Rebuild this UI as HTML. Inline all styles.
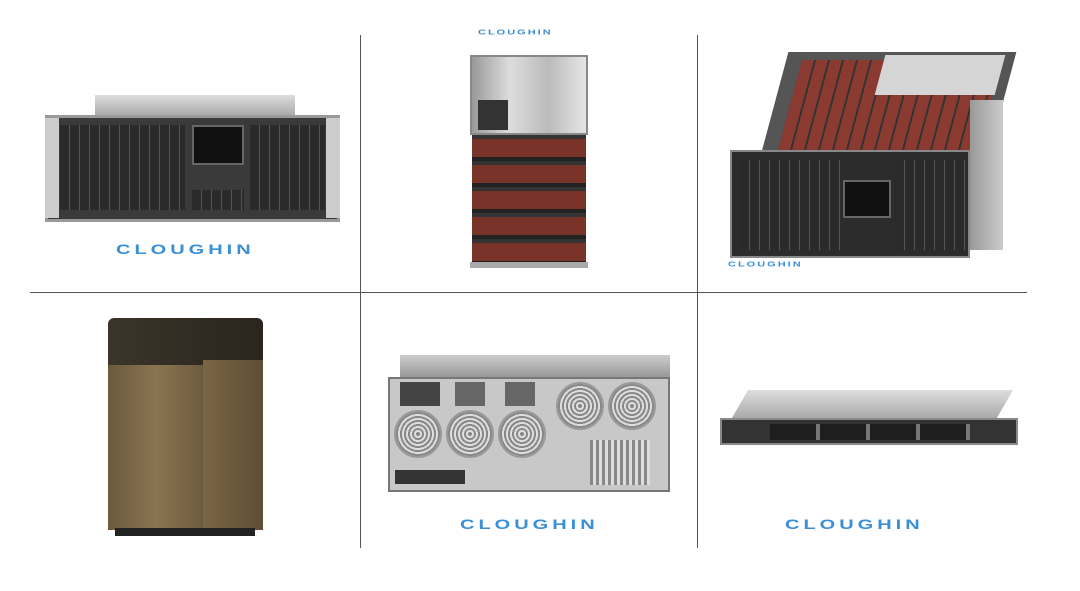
<!DOCTYPE html>
<html><head><style>
body{margin:0;width:1080px;height:591px;background:#fff;position:relative;overflow:hidden;font-family:"Liberation Sans",sans-serif}
div{position:absolute;box-sizing:border-box}
.logo{color:#3b8fd6;font-weight:bold;letter-spacing:3px;white-space:nowrap;transform:scaleY(0.7);transform-origin:left top}
.drv{background:repeating-linear-gradient(90deg,#2a2a2a 0 9px,#555 9px 10px)}
.red{background:repeating-linear-gradient(90deg,#8a3a30 0 12px,#333 12px 14px)}
.fan{border-radius:50%;background:repeating-radial-gradient(#888 0 2px,#ddd 2px 4px);border:2px solid #999}
</style></head><body>
<div style="left:360px;top:35px;width:1px;height:513px;background:#555"></div>
<div style="left:697px;top:35px;width:1px;height:513px;background:#555"></div>
<div style="left:30px;top:292px;width:997px;height:1px;background:#555"></div>

<!-- cell1 -->
<div style="left:95px;top:95px;width:200px;height:20px;background:linear-gradient(#ddd,#aaa)"></div>
<div style="left:45px;top:115px;width:295px;height:107px;background:#3a3a3a;border:3px solid #999"></div>
<div style="left:60px;top:125px;width:125px;height:85px" class="drv"></div>
<div style="left:250px;top:125px;width:75px;height:85px" class="drv"></div>
<div style="left:192px;top:125px;width:52px;height:40px;background:#111;border:2px solid #666"></div>
<div style="left:192px;top:190px;width:52px;height:20px" class="drv"></div>
<div style="left:45px;top:118px;width:14px;height:100px;background:#ccc"></div>
<div style="left:326px;top:118px;width:14px;height:100px;background:#ccc"></div>
<div class="logo" style="left:116px;top:242px;font-size:20px;letter-spacing:4px">CLOUGHIN</div>

<!-- cell2 -->
<div class="logo" style="left:478px;top:28px;font-size:11px;letter-spacing:2px">CLOUGHIN</div>
<div style="left:470px;top:55px;width:118px;height:80px;background:linear-gradient(90deg,#999,#ddd,#bbb,#e5e5e5);border:2px solid #888"></div>
<div style="left:478px;top:100px;width:30px;height:30px;background:#333"></div>
<div style="left:472px;top:135px;width:114px;height:128px;background:repeating-linear-gradient(#333 0 4px,#7a3328 4px 22px,#222 22px 26px)"></div>
<div style="left:470px;top:262px;width:118px;height:6px;background:#aaa"></div>

<!-- cell3 -->
<div style="left:775px;top:52px;width:228px;height:100px;background:#555;transform:skewX(-15deg)"></div>
<div style="left:790px;top:60px;width:200px;height:90px;transform:skewX(-15deg)" class="red"></div>
<div style="left:880px;top:55px;width:120px;height:40px;background:#d5d5d5;transform:skewX(-15deg)"></div>
<div style="left:730px;top:150px;width:240px;height:108px;background:#2c2c2c;border:2px solid #888"></div>
<div style="left:740px;top:160px;width:100px;height:90px" class="drv"></div>
<div style="left:895px;top:160px;width:70px;height:90px" class="drv"></div>
<div style="left:843px;top:180px;width:48px;height:38px;background:#111;border:2px solid #666"></div>
<div style="left:970px;top:100px;width:33px;height:150px;background:linear-gradient(90deg,#999,#ccc)"></div>
<div class="logo" style="left:728px;top:260px;font-size:11px;letter-spacing:2px">CLOUGHIN</div>

<!-- cell4 -->
<div style="left:108px;top:318px;width:155px;height:50px;background:linear-gradient(90deg,#3a342a,#2a251d);border-radius:6px 6px 0 0"></div>
<div style="left:108px;top:365px;width:95px;height:165px;background:linear-gradient(90deg,#6b5a3e,#8a7450,#6e5c40)"></div>
<div style="left:203px;top:360px;width:60px;height:170px;background:linear-gradient(90deg,#7a6644,#5e4e35)"></div>
<div style="left:115px;top:528px;width:140px;height:8px;background:#222"></div>

<!-- cell5 -->
<div style="left:400px;top:355px;width:270px;height:22px;background:linear-gradient(#ccc,#999)"></div>
<div style="left:388px;top:377px;width:282px;height:115px;background:#c8c8c8;border:2px solid #777"></div>
<div class="fan" style="left:394px;top:410px;width:48px;height:48px"></div>
<div class="fan" style="left:446px;top:410px;width:48px;height:48px"></div>
<div class="fan" style="left:498px;top:410px;width:48px;height:48px"></div>
<div class="fan" style="left:556px;top:382px;width:48px;height:48px"></div>
<div class="fan" style="left:608px;top:382px;width:48px;height:48px"></div>
<div style="left:400px;top:382px;width:40px;height:24px;background:#444"></div>
<div style="left:455px;top:382px;width:30px;height:24px;background:#666"></div>
<div style="left:505px;top:382px;width:30px;height:24px;background:#666"></div>
<div style="left:395px;top:470px;width:70px;height:14px;background:#333"></div>
<div style="left:590px;top:440px;width:60px;height:45px;background:repeating-linear-gradient(90deg,#888 0 3px,#ddd 3px 6px)"></div>
<div class="logo" style="left:460px;top:517px;font-size:20px;letter-spacing:4px">CLOUGHIN</div>

<!-- cell6 -->
<div style="left:740px;top:390px;width:265px;height:28px;background:linear-gradient(#ddd,#aaa);transform:skewX(-30deg)"></div>
<div style="left:720px;top:418px;width:298px;height:27px;background:#333;border:2px solid #888"></div>
<div style="left:770px;top:424px;width:200px;height:16px;background:repeating-linear-gradient(90deg,#1e1e1e 0 46px,#777 46px 50px)"></div>
<div class="logo" style="left:785px;top:517px;font-size:20px;letter-spacing:4px">CLOUGHIN</div>
</body></html>
